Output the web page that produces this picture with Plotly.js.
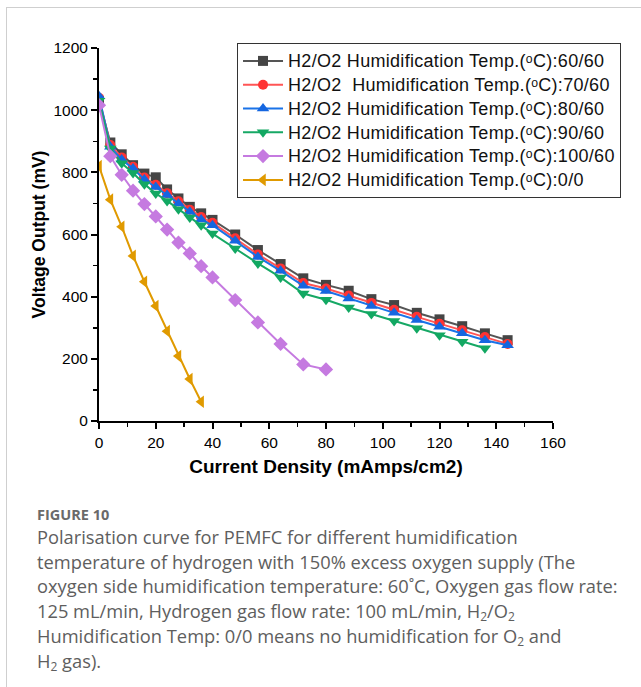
<!DOCTYPE html>
<html>
<head>
<meta charset="utf-8">
<script src="https://cdn.plot.ly/plotly-3.0.1.min.js"></script>
<style>
  html, body { margin: 0; padding: 0; background: #fff; }
  #wrap { position: relative; width: 641px; height: 687px; overflow: hidden; }
  #frame { position: absolute; left: 6px; top: 7px; width: 700px; height: 700px; border-left: 1px solid #cfcfcf; border-top: 1px solid #cfcfcf; }
  #chart { position: absolute; left: 0; top: 0; width: 641px; height: 687px; }
  #cap { position: absolute; left: 37px; top: 505px; font-family: "Open Sans", sans-serif; color: #5e5e5e; }
  #cap .fig { font-size: 14.5px; font-weight: 700; color: #6a6a6a; line-height: 20px; }
  #cap .line { font-size: 18.3px; line-height: 24.7px; white-space: nowrap; font-weight: 400; }
  #cap sub { font-size: 12px; vertical-align: -3px; line-height: 0; }
  .legendtext { font-size: 18px !important; letter-spacing: 0.3px; }
</style>
</head>
<body>
<div id="wrap">
  <div id="frame"></div>
  <div id="chart"></div>
  <div id="cap">
    <div class="fig">FIGURE 10</div>
    <div class="line">Polarisation curve for PEMFC for different humidification</div>
    <div class="line">temperature of hydrogen with 150% excess oxygen supply (The</div>
    <div class="line">oxygen side humidification temperature: 60˚C, Oxygen gas flow rate:</div>
    <div class="line">125 mL/min, Hydrogen gas flow rate: 100 mL/min, H<sub>2</sub>/O<sub>2</sub></div>
    <div class="line">Humidification Temp: 0/0 means no humidification for O<sub>2</sub> and</div>
    <div class="line">H<sub>2</sub> gas).</div>
  </div>
</div>
<script>
// ---- data ----
const xMain = [0,4,8,12,16,20,24,28,32,36,40,48,56,64,72,80,88,96,104,112,120,128,136,144];
const y6060 = [1030,896,858,823,796,784,745,716,689,668,647,600,550,505,459,438,419,392,373,348,327,305,282,260];
const y7060 = [1040,888,848,818,783,760,733,707,680,656,638,588,536,491,444,426,404,380,358,335,313,292,270,248];
const y8060 = [1045,882,841,812,777,753,727,700,673,648,630,580,528,483,435,418,394,370,348,325,303,282,260,244];
const xGreen = [0,4,8,12,16,20,24,28,32,36,40,48,56,64,72,80,88,96,104,112,120,128,136];
const y9060 = [1030,877,829,798,762,732,708,681,655,630,603,555,507,462,410,390,365,344,322,298,276,255,234];
const xPurple = [0,4,8,12,16,20,24,28,32,36,40,48,56,64,72,80];
const y10060 = [1016,852,792,741,698,658,616,574,539,498,462,389,317,248,182,166];
const xOrange = [0,4,8,12,16,20,24,28,32,36];
const y00 = [820,712,625,531,448,370,289,209,135,62];
const seriesNames = [
  "H2/O2 Humidification Temp.(\u1D52C):60/60",
  "H2/O2\u00a0 Humidification Temp.(\u1D52C):70/60",
  "H2/O2 Humidification Temp.(\u1D52C):80/60",
  "H2/O2 Humidification Temp.(\u1D52C):90/60",
  "H2/O2 Humidification Temp.(\u1D52C):100/60",
  "H2/O2 Humidification Temp.(\u1D52C):0/0"
];
const xTitle = "Current Density (mAmps/cm2)";
const yTitle = "Voltage Output (mV)";

// ---- styles ----
const styles = [
  {color: "#454545", line: "#555555", symbol: "square", size: 10},
  {color: "#ff3333", line: "#ff5555", symbol: "circle", size: 10},
  {color: "#1466e0", line: "#1a73e8", symbol: "triangle-up", size: 11},
  {color: "#12a862", line: "#16a865", symbol: "triangle-down", size: 11},
  {color: "#c57ae0", line: "#c57ae0", symbol: "diamond", size: 11},
  {color: "#e09a00", line: "#e09a00", symbol: "triangle-left", size: 11}
];
const xs = [xMain, xMain, xMain, xGreen, xPurple, xOrange];
const ys = [y6060, y7060, y8060, y9060, y10060, y00];

const traces = xs.map((x, i) => ({
  type: "scatter", mode: "lines+markers", x: x, y: ys[i], name: seriesNames[i],
  line: {color: styles[i].line, width: 2},
  marker: {color: styles[i].color, symbol: styles[i].symbol, size: styles[i].size, line: {width: 0}}
}));

const axisFont = {family: "Arial, Liberation Sans, sans-serif", size: 15.5, color: "#000"};
const layout = {
  width: 641, height: 687,
  margin: {l: 99, r: 88, t: 48, b: 266, pad: 0},
  paper_bgcolor: "rgba(0,0,0,0)", plot_bgcolor: "rgba(0,0,0,0)",
  showlegend: true,
  xaxis: {
    range: [0, 160], tickvals: [0,20,40,60,80,100,120,140,160],
    showgrid: false, zeroline: false, showline: true, linecolor: "#000", linewidth: 2,
    ticks: "outside", ticklen: 6, tickwidth: 2, tickcolor: "#000",
    minor: {dtick: 10, tick0: 0, ticks: "outside", ticklen: 4, tickwidth: 1.5, tickcolor: "#000"},
    tickfont: axisFont,
    title: {text: "<b>" + xTitle + "</b>", font: {family: "Arial, Liberation Sans, sans-serif", size: 19, color: "#000"}, standoff: 10}
  },
  yaxis: {
    range: [0, 1200], tickvals: [0,200,400,600,800,1000,1200],
    showgrid: false, zeroline: false, showline: true, linecolor: "#000", linewidth: 2,
    ticks: "outside", ticklen: 6, tickwidth: 2, tickcolor: "#000",
    minor: {dtick: 100, tick0: 0, ticks: "outside", ticklen: 4, tickwidth: 1.5, tickcolor: "#000"},
    tickfont: axisFont,
    title: {text: "<b>" + yTitle + "</b>", font: {family: "Arial, Liberation Sans, sans-serif", size: 17.5, color: "#000"}, standoff: 3}
  },
  legend: {
    x: 0.304, y: 1.0134, xanchor: "left", yanchor: "top",
    bgcolor: "#fff", bordercolor: "#333", borderwidth: 1,
    font: {family: "Arial, Liberation Sans, sans-serif", size: 16, color: "#111"},
    tracegroupgap: 0, itemwidth: 40
  }
};

Plotly.newPlot("chart", traces, layout, {displayModeBar: false, staticPlot: true});
</script>
</body>
</html>
